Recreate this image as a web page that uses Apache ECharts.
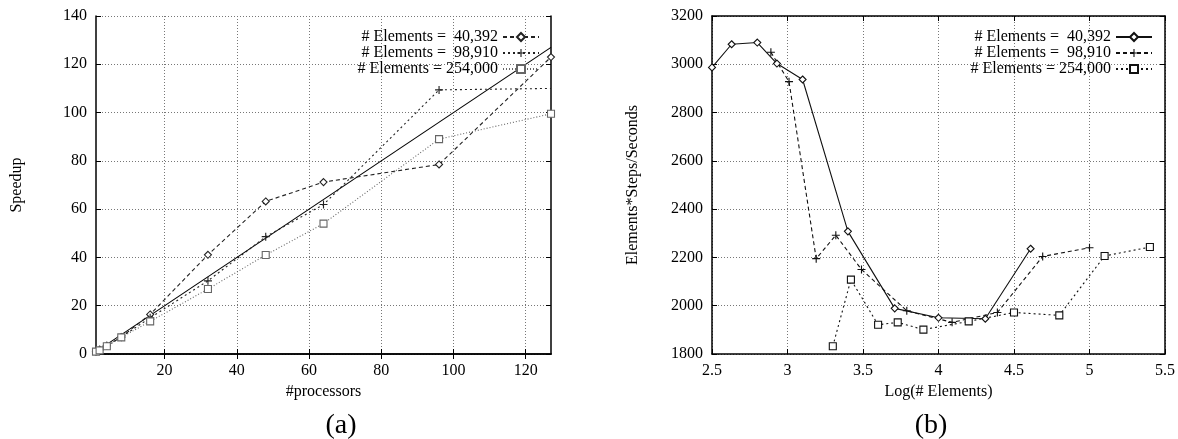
<!DOCTYPE html>
<html>
<head>
<meta charset="utf-8">
<title>Speedup and throughput</title>
<script src="https://cdn.jsdelivr.net/npm/echarts@6/dist/echarts.min.js"></script>
<style>
  html, body { margin: 0; padding: 0; background: #fff; }
  #chart { width: 1178px; height: 439px; }
</style>
</head>
<body>
<div id="chart"></div>
<script>
// --- data (a): speedup vs processors ---
const procs = [1, 2, 4, 8, 16, 32, 48, 64, 96, 127];
const speedup40k = [1, 1.8, 3.4, 7, 16.4, 41.1, 63.2, 71.2, 78.5, 123];
const speedup98k = [1, 1.8, 3.4, 7, 15, 30.3, 48.6, 61.9, 109.4, 110];
const speedup254k = [1, 1.5, 3.2, 6.9, 13.5, 26.9, 41, 54, 89, 99.5];
const idealProcs = [1, 127];
const procTicks = [20, 40, 60, 80, 100, 120];

// --- data (b): elements*steps/seconds vs log(#elements) ---
const logN40k = [2.5, 2.63, 2.8, 2.93, 3.1, 3.4, 3.71, 4.0, 4.31, 4.61];
const rate40k = [2987, 3083, 3090, 3003, 2937, 2308, 1989, 1950, 1946, 2236];
const logN98k = [2.89, 3.01, 3.19, 3.32, 3.49, 3.79, 4.09, 4.39, 4.69, 5.0];
const rate98k = [3050, 2928, 2195, 2292, 2150, 1979, 1931, 1972, 2204, 2240];
const logN254k = [3.3, 3.42, 3.6, 3.73, 3.9, 4.2, 4.5, 4.8, 5.1, 5.4];
const rate254k = [1832, 2108, 1921, 1931, 1901, 1935, 1972, 1960, 2206, 2243];

const names = ['# Elements =  40,392', '# Elements =  98,910', '# Elements = 254,000'];

const FONT = '"Liberation Serif", "DejaVu Serif", serif';
const PLUS = 'path://M4.3,0h1.4v4.3h4.3v1.4h-4.3v4.3h-1.4v-4.3h-4.3v-1.4h4.3z';

function zip(xs, ys) {
    return xs.map((x, i) => [x, ys[i]]);
}

// one line series with hollow markers (plus is filled)
function lineSeries(name, grid, data, symbol, dash, color, size) {
    return {
        name: name,
        type: 'line',
        xAxisIndex: grid * 2,
        yAxisIndex: grid * 2,
        data: data,
        symbol: symbol,
        symbolSize: size,
        showSymbol: symbol !== 'none',
        lineStyle: { color: color, width: 1.1, type: dash },
        itemStyle: { color: symbol === PLUS ? color : '#fff', borderColor: color, borderWidth: symbol === PLUS ? 0 : 1.1 },
        emphasis: { disabled: true },
        z: 3
    };
}

const plainNum = v => String(v);

function mainX(gridIndex, min, max, extra) {
    return Object.assign({
        type: 'value', gridIndex: gridIndex, min: min, max: max, position: 'bottom',
        axisLine: { show: true, lineStyle: { color: '#000', width: 1.5 } },
        axisTick: { show: true, inside: true, length: 5, lineStyle: { color: '#000' } },
        axisLabel: { color: '#000', fontFamily: FONT, fontSize: 16, margin: 9, formatter: plainNum },
        splitLine: { show: true, lineStyle: { color: '#777', type: [1, 2], width: 1 } },
        nameLocation: 'middle', nameGap: 28,
        nameTextStyle: { color: '#000', fontFamily: FONT, fontSize: 16 }
    }, extra);
}

function mainY(gridIndex, min, max, interval, extra) {
    return Object.assign({
        type: 'value', gridIndex: gridIndex, min: min, max: max, interval: interval, position: 'left',
        axisLine: { show: true, lineStyle: { color: '#000', width: 1.5 } },
        axisTick: { show: true, inside: true, length: 5, lineStyle: { color: '#000' } },
        axisLabel: { color: '#000', fontFamily: FONT, fontSize: 16, margin: 9, formatter: plainNum },
        splitLine: { show: true, lineStyle: { color: '#777', type: [1, 2], width: 1 } },
        nameLocation: 'middle', nameRotate: 90, nameGap: 71,
        nameTextStyle: { color: '#000', fontFamily: FONT, fontSize: 16 }
    }, extra);
}

// mirror axes on top / right, ticks only (gnuplot border style)
function mirror(base, pos) {
    return Object.assign({}, base, {
        position: pos, name: '',
        axisLabel: { show: false },
        splitLine: { show: false }
    });
}

const x0 = mainX(0, 1, 127, {
    name: '#processors',
    axisTick: { show: true, inside: true, length: 5, lineStyle: { color: '#000' }, customValues: procTicks },
    axisLabel: { color: '#000', fontFamily: FONT, fontSize: 16, margin: 9, customValues: procTicks }
});
const y0 = mainY(0, 0, 140, 20, { name: 'Speedup' });
const x1 = mainX(1, 2.5, 5.5, { interval: 0.5, name: 'Log(# Elements)' });
const y1 = mainY(1, 1800, 3200, 200, { name: 'Elements*Steps/Seconds' });

const data98k = zip(procs, speedup98k);
data98k[data98k.length - 1] = { value: data98k[data98k.length - 1], symbol: 'none' };

// right-hand legend needs distinct series names; suffix is hidden by the formatter
const bNames = names.map(n => n + ' (b)');

const legendBase = {
    orient: 'vertical', align: 'right', top: 29, padding: 0, itemGap: 0,
    itemWidth: 36, itemHeight: 10, selectedMode: false,
    textStyle: { color: '#000', fontFamily: FONT, fontSize: 16, lineHeight: 15.6 }
};

const option = {
    animation: false,
    backgroundColor: '#fff',
    grid: [
        { left: 96, right: 627, top: 16, bottom: 85 },
        { left: 712, right: 11, top: 16, bottom: 85 }
    ],
    xAxis: [x0, mirror(x0, 'top'), x1, mirror(x1, 'top')],
    yAxis: [y0, mirror(y0, 'right'), y1, mirror(y1, 'right')],
    legend: [
        Object.assign({}, legendBase, { data: names, right: 638 }),
        Object.assign({}, legendBase, { data: bNames, right: 25, formatter: n => n.replace(' (b)', '') })
    ],
    series: [
        // (a)
        {
            name: 'ideal', type: 'line', xAxisIndex: 0, yAxisIndex: 0,
            data: zip(idealProcs, idealProcs), symbol: 'none',
            lineStyle: { color: '#000', width: 1.1 }, emphasis: { disabled: true }, z: 2
        },
        lineSeries(names[0], 0, zip(procs, speedup40k), 'diamond', [4, 3], '#222', 7),
        lineSeries(names[1], 0, data98k, PLUS, [2, 3], '#222', 8),
        lineSeries(names[2], 0, zip(procs, speedup254k), 'rect', [1, 2], '#666', 7),
        // (b)
        lineSeries(bNames[0], 1, zip(logN40k, rate40k), 'diamond', 'solid', '#111', 7),
        lineSeries(bNames[1], 1, zip(logN98k, rate98k), PLUS, [4, 3], '#111', 8),
        lineSeries(bNames[2], 1, zip(logN254k, rate254k), 'rect', [2, 3], '#111', 7)
    ],
    graphic: [
        { type: 'text', x: 341, y: 426, style: { text: '(a)', font: '28px ' + FONT, fill: '#000', align: 'center', verticalAlign: 'middle' } },
        { type: 'text', x: 931, y: 426, style: { text: '(b)', font: '28px ' + FONT, fill: '#000', align: 'center', verticalAlign: 'middle' } }
    ]
};

const chart = echarts.init(document.getElementById('chart'));
chart.setOption(option);
</script>
</body>
</html>
